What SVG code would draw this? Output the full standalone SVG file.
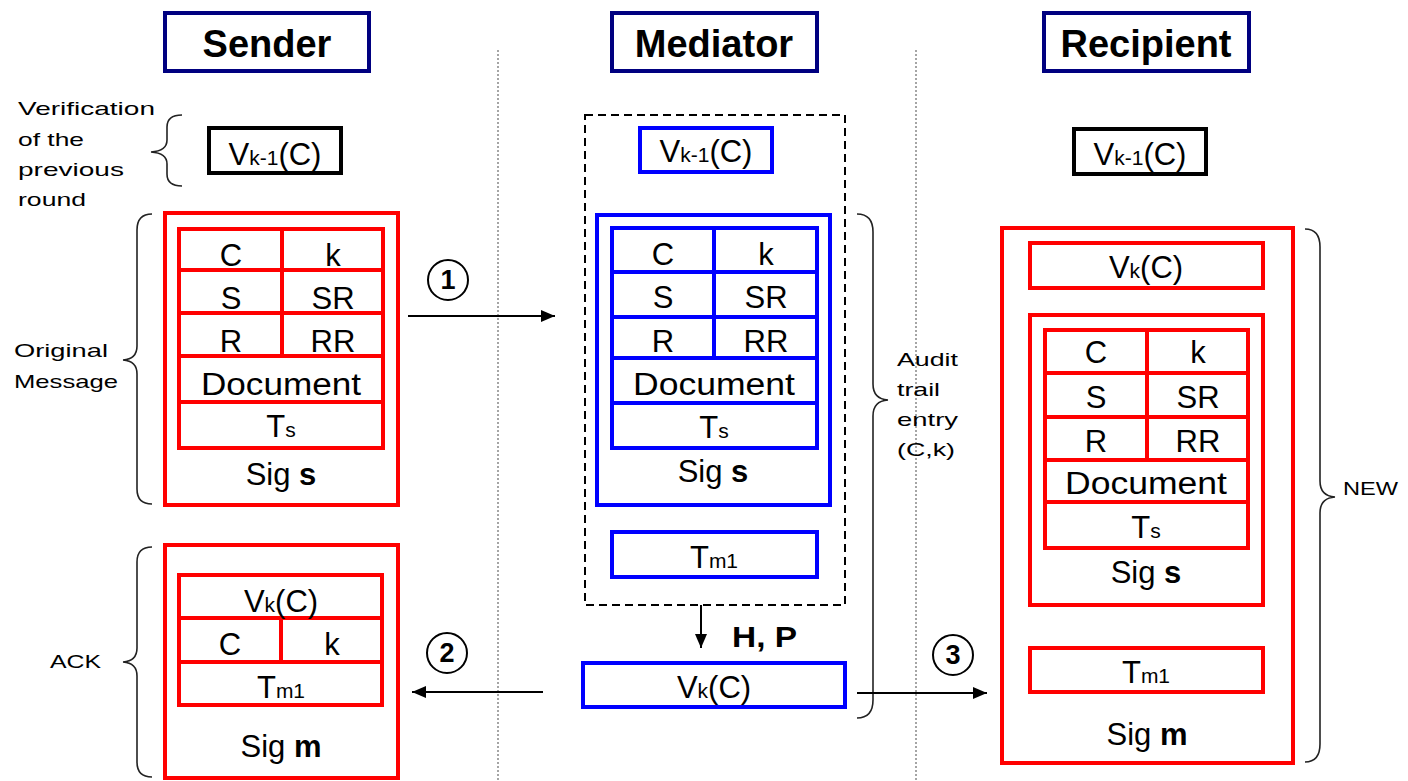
<svg xmlns="http://www.w3.org/2000/svg" width="1408" height="781" viewBox="0 0 1408 781">
<defs>
<style>
.hdr{fill:#fff;stroke:#000080;stroke-width:4}
.htx{font-family:"Liberation Sans",Arial,sans-serif;font-weight:bold;font-size:38px;text-anchor:middle;fill:#000}
.red{fill:none;stroke:#ff0000;stroke-width:4}
.blue{fill:none;stroke:#0000ff;stroke-width:4}
.blk{fill:none;stroke:#000;stroke-width:4}
.t{font-family:"Liberation Sans",Arial,sans-serif;font-size:31px;text-anchor:middle;fill:#000}
.sm{font-size:21px}
.lbl{font-family:"Liberation Sans",Arial,sans-serif;font-size:19px;fill:#000}
.brace{fill:none;stroke:#222;stroke-width:1.6}
.dot{stroke:#888;stroke-width:1.5;stroke-dasharray:2,2}
.conn{stroke:#000;stroke-width:2;fill:none}
.circ{fill:#fff;stroke:#000;stroke-width:2}
.num{font-family:"Liberation Sans",Arial,sans-serif;font-weight:bold;font-size:27px;text-anchor:middle;fill:#000}
</style>
<marker id="ah" markerUnits="userSpaceOnUse" markerWidth="16" markerHeight="14" refX="14" refY="6" orient="auto">
<path d="M0,0 L14,6 L0,12 z" fill="#000"/>
</marker>
</defs>
<rect width="1408" height="781" fill="#fff"/>

<g id="separators">
<line class="dot" x1="498" y1="50" x2="498" y2="781"/>
<line class="dot" x1="916" y1="50" x2="916" y2="781"/>
</g>

<g id="header-sender">
<rect class="hdr" x="165" y="13" width="204" height="58"/>
<text class="htx" x="267" y="57">Sender</text>
</g>
<g id="header-mediator">
<rect class="hdr" x="612" y="13" width="205" height="58"/>
<text class="htx" x="714" y="57">Mediator</text>
</g>
<g id="header-recipient">
<rect class="hdr" x="1044" y="13" width="205" height="58"/>
<text class="htx" x="1146" y="57">Recipient</text>
</g>

<g id="label-verification">
<text class="lbl" x="18" y="115" textLength="137" lengthAdjust="spacingAndGlyphs">Verification</text>
<text class="lbl" x="18" y="146" textLength="66" lengthAdjust="spacingAndGlyphs">of the</text>
<text class="lbl" x="18" y="176" textLength="106" lengthAdjust="spacingAndGlyphs">previous</text>
<text class="lbl" x="18" y="206" textLength="68" lengthAdjust="spacingAndGlyphs">round</text>
<path class="brace" d="M182,115 Q167,115 167,127 L167,140 Q167,151 151,152 Q167,153 167,164 L167,174 Q167,186 182,186"/>
</g>

<g id="sender-prev">
<rect class="blk" x="209" y="128" width="132" height="45"/>
<text class="t" x="275" y="165">V<tspan class="sm">k-1</tspan>(C)</text>
</g>

<g id="label-original">
<text class="lbl" x="14" y="357" textLength="94" lengthAdjust="spacingAndGlyphs">Original</text>
<text class="lbl" x="14" y="388" textLength="104" lengthAdjust="spacingAndGlyphs">Message</text>
<path class="brace" d="M152,214 Q137,214 137,230 L137,346 Q137,359 123,360 Q137,361 137,374 L137,489 Q137,504 152,504"/>
</g>

<g id="sender-original">
<rect class="red" x="165" y="213" width="233" height="292"/>
<rect class="red" x="179" y="229" width="204" height="219"/>
<line class="red" x1="179" y1="270" x2="383" y2="270"/>
<line class="red" x1="179" y1="313" x2="383" y2="313"/>
<line class="red" x1="179" y1="356" x2="383" y2="356"/>
<line class="red" x1="179" y1="402" x2="383" y2="402"/>
<line class="red" x1="282" y1="229" x2="282" y2="356"/>
<text class="t" x="231" y="266">C</text>
<text class="t" x="333" y="266">k</text>
<text class="t" x="231" y="309">S</text>
<text class="t" x="333" y="309">SR</text>
<text class="t" x="231" y="352">R</text>
<text class="t" x="333" y="352">RR</text>
<text class="t" x="281" y="395" textLength="160" lengthAdjust="spacingAndGlyphs">Document</text>
<text class="t" x="281" y="437">T<tspan class="sm">s</tspan></text>
<text class="t" x="281" y="485">Sig <tspan font-weight="bold">s</tspan></text>
</g>

<g id="label-ack">
<text class="lbl" x="50" y="668" textLength="51" lengthAdjust="spacingAndGlyphs">ACK</text>
<path class="brace" d="M152,547 Q137,547 137,562 L137,648 Q137,661 123,662 Q137,663 137,676 L137,762 Q137,777 152,777"/>
</g>

<g id="sender-ack">
<rect class="red" x="165" y="545" width="233" height="233"/>
<rect class="red" x="179" y="575" width="203" height="130"/>
<line class="red" x1="179" y1="618" x2="382" y2="618"/>
<line class="red" x1="179" y1="662" x2="382" y2="662"/>
<line class="red" x1="281" y1="618" x2="281" y2="662"/>
<text class="t" x="281" y="612">V<tspan class="sm">k</tspan>(C)</text>
<text class="t" x="230" y="655">C</text>
<text class="t" x="332" y="655">k</text>
<text class="t" x="281" y="698">T<tspan class="sm">m1</tspan></text>
<text class="t" x="281" y="757">Sig <tspan font-weight="bold">m</tspan></text>
</g>

<g id="mediator-group">
<rect x="585" y="115" width="260" height="490" fill="none" stroke="#000" stroke-width="2" stroke-dasharray="8,5"/>
</g>

<g id="mediator-prev">
<rect class="blue" x="640" y="128" width="132" height="44"/>
<text class="t" x="706" y="162">V<tspan class="sm">k-1</tspan>(C)</text>
</g>

<g id="mediator-original">
<rect class="blue" x="597" y="215" width="233" height="290"/>
<rect class="blue" x="612" y="228" width="205" height="220"/>
<line class="blue" x1="612" y1="272" x2="817" y2="272"/>
<line class="blue" x1="612" y1="317" x2="817" y2="317"/>
<line class="blue" x1="612" y1="358" x2="817" y2="358"/>
<line class="blue" x1="612" y1="403" x2="817" y2="403"/>
<line class="blue" x1="714" y1="228" x2="714" y2="358"/>
<text class="t" x="663" y="265">C</text>
<text class="t" x="766" y="265">k</text>
<text class="t" x="663" y="308">S</text>
<text class="t" x="766" y="308">SR</text>
<text class="t" x="663" y="352">R</text>
<text class="t" x="766" y="352">RR</text>
<text class="t" x="714" y="395" textLength="162" lengthAdjust="spacingAndGlyphs">Document</text>
<text class="t" x="714" y="438">T<tspan class="sm">s</tspan></text>
<text class="t" x="713" y="482">Sig <tspan font-weight="bold">s</tspan></text>
</g>

<g id="mediator-tm1">
<rect class="blue" x="612" y="532" width="205" height="45"/>
<text class="t" x="714" y="568">T<tspan class="sm">m1</tspan></text>
</g>

<g id="mediator-vk">
<rect class="blue" x="583" y="663" width="262" height="44"/>
<text class="t" x="714" y="698">V<tspan class="sm">k</tspan>(C)</text>
</g>

<g id="label-audit">
<path class="brace" d="M857,214 Q873,214 873,232 L873,384 Q873,399 888,400 Q873,401 873,416 L873,700 Q873,718 857,718"/>
<text class="lbl" x="897" y="366" textLength="61" lengthAdjust="spacingAndGlyphs">Audit</text>
<text class="lbl" x="897" y="396" textLength="43" lengthAdjust="spacingAndGlyphs">trail</text>
<text class="lbl" x="897" y="426" textLength="61" lengthAdjust="spacingAndGlyphs">entry</text>
<text class="lbl" x="897" y="456" textLength="58" lengthAdjust="spacingAndGlyphs">(C,k)</text>
</g>

<g id="recipient-prev">
<rect class="blk" x="1074" y="129" width="132" height="45"/>
<text class="t" x="1140" y="165">V<tspan class="sm">k-1</tspan>(C)</text>
</g>

<g id="recipient-new">
<rect class="red" x="1002" y="228" width="291" height="535"/>
<rect class="red" x="1030" y="243" width="233" height="45"/>
<text class="t" x="1146" y="278">V<tspan class="sm">k</tspan>(C)</text>
<rect class="red" x="1030" y="315" width="233" height="290"/>
<rect class="red" x="1045" y="330" width="203" height="218"/>
<line class="red" x1="1045" y1="373" x2="1248" y2="373"/>
<line class="red" x1="1045" y1="417" x2="1248" y2="417"/>
<line class="red" x1="1045" y1="460" x2="1248" y2="460"/>
<line class="red" x1="1045" y1="502" x2="1248" y2="502"/>
<line class="red" x1="1147" y1="330" x2="1147" y2="460"/>
<text class="t" x="1096" y="363">C</text>
<text class="t" x="1198" y="363">k</text>
<text class="t" x="1096" y="408">S</text>
<text class="t" x="1198" y="408">SR</text>
<text class="t" x="1096" y="452">R</text>
<text class="t" x="1198" y="452">RR</text>
<text class="t" x="1146" y="494" textLength="162" lengthAdjust="spacingAndGlyphs">Document</text>
<text class="t" x="1146" y="538">T<tspan class="sm">s</tspan></text>
<text class="t" x="1146" y="583">Sig <tspan font-weight="bold">s</tspan></text>
<rect class="red" x="1030" y="648" width="233" height="44"/>
<text class="t" x="1146" y="683">T<tspan class="sm">m1</tspan></text>
<text class="t" x="1147" y="745">Sig <tspan font-weight="bold">m</tspan></text>
</g>

<g id="label-new">
<path class="brace" d="M1305,229 Q1320,229 1320,247 L1320,481 Q1320,496 1335,497 Q1320,498 1320,513 L1320,744 Q1320,762 1305,762"/>
<text class="lbl" x="1343" y="495" textLength="55" lengthAdjust="spacingAndGlyphs">NEW</text>
</g>

<g id="connectors">
<line class="conn" x1="408" y1="316" x2="555" y2="316" marker-end="url(#ah)"/>
<line class="conn" x1="543" y1="692" x2="412" y2="692" marker-end="url(#ah)"/>
<line class="conn" x1="857" y1="693" x2="987" y2="693" marker-end="url(#ah)"/>
<line class="conn" x1="701" y1="605" x2="701" y2="648" marker-end="url(#ah)"/>
<text x="732" y="647" font-family="Liberation Sans, Arial, sans-serif" font-weight="bold" font-size="30" fill="#000" textLength="65" lengthAdjust="spacingAndGlyphs">H, P</text>
<circle class="circ" cx="448" cy="280" r="20"/>
<text class="num" x="448" y="289">1</text>
<circle class="circ" cx="447" cy="653" r="20"/>
<text class="num" x="447" y="662">2</text>
<circle class="circ" cx="953" cy="655" r="20"/>
<text class="num" x="953" y="664">3</text>
</g>
</svg>
